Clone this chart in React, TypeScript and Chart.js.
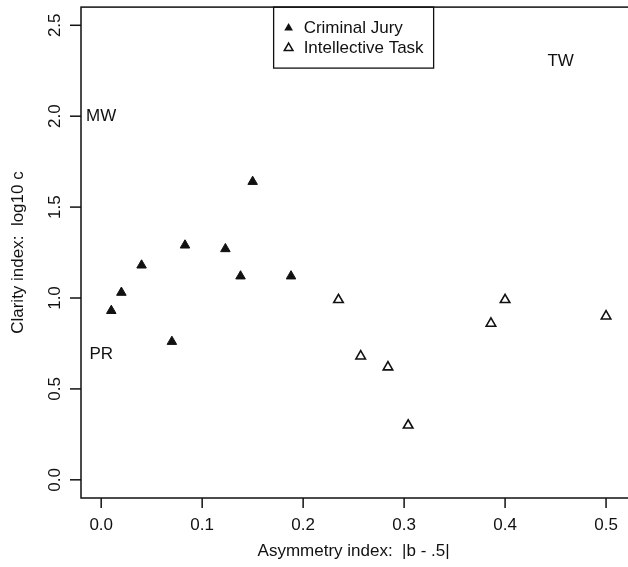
import React, { useEffect, useRef } from "react";
import { Chart, registerables } from "chart.js";

Chart.register(...registerables);

// Data
const juryX = [0.01, 0.02, 0.04, 0.07, 0.083, 0.123, 0.138, 0.15, 0.188];
const juryY = [0.93, 1.03, 1.18, 0.76, 1.29, 1.27, 1.12, 1.64, 1.12];
const taskX = [0.235, 0.257, 0.284, 0.304, 0.386, 0.4, 0.5];
const taskY = [0.99, 0.68, 0.62, 0.3, 0.86, 0.99, 0.9];

const xTicks = [0, 0.1, 0.2, 0.3, 0.4, 0.5];
const yTicks = [0, 0.5, 1.0, 1.5, 2.0, 2.5];

const noteText = ["MW", "PR", "TW"];
const noteX = [0, 0, 0.455];
const noteY = [2.0, 0.69, 2.3];

const seriesNames = ["Criminal Jury", "Intellective Task"];
const xTitle = "Asymmetry index:  |b - .5|";
const yTitle = "Clarity index:  log10 c";

const FONT = '17px "Liberation Sans", Arial, sans-serif';
const INK = "#111111";

const framePlugin = {
  id: "rframe",
  afterDraw(chart: any) {
    const { ctx, chartArea: a, scales } = chart;
    const xs = scales.x;
    const ys = scales.y;
    ctx.save();
    ctx.strokeStyle = INK;
    ctx.fillStyle = INK;
    ctx.lineWidth = 1.5;
    // frame
    ctx.strokeRect(a.left, a.top, a.right - a.left + 20, a.bottom - a.top);
    ctx.font = FONT;
    // x ticks
    ctx.textAlign = "center";
    ctx.textBaseline = "middle";
    xTicks.forEach((v) => {
      const px = xs.getPixelForValue(v);
      ctx.beginPath();
      ctx.moveTo(px, a.bottom);
      ctx.lineTo(px, a.bottom + 10);
      ctx.stroke();
      ctx.fillText(v.toFixed(1), px, a.bottom + 27);
    });
    // y ticks
    yTicks.forEach((v) => {
      const py = ys.getPixelForValue(v);
      ctx.beginPath();
      ctx.moveTo(a.left - 11, py);
      ctx.lineTo(a.left, py);
      ctx.stroke();
      ctx.save();
      ctx.translate(a.left - 26, py);
      ctx.rotate(-Math.PI / 2);
      ctx.fillText(v.toFixed(1), 0, 0);
      ctx.restore();
    });
    // axis titles
    ctx.fillText(xTitle, xs.getPixelForValue(0.25), a.bottom + 53);
    ctx.save();
    ctx.translate(18, ys.getPixelForValue(1.25));
    ctx.rotate(-Math.PI / 2);
    ctx.fillText(yTitle, 0, 0);
    ctx.restore();
    // annotations
    noteText.forEach((t, i) => {
      ctx.fillText(t, xs.getPixelForValue(noteX[i]), ys.getPixelForValue(noteY[i]));
    });
    // legend
    const cx = xs.getPixelForValue(0.25);
    const bx = cx - 80;
    const bw = 160;
    ctx.lineWidth = 1.3;
    ctx.strokeRect(bx, a.top, bw, 61);
    ctx.textAlign = "left";
    const rows = [a.top + 21, a.top + 41];
    rows.forEach((ry, i) => {
      const ds = chart.data.datasets[i];
      const r = 5;
      const sx = bx + 15;
      ctx.beginPath();
      ctx.moveTo(sx, ry - r);
      ctx.lineTo(sx + r * Math.sin((2 * Math.PI) / 3), ry - r * Math.cos((2 * Math.PI) / 3));
      ctx.lineTo(sx + r * Math.sin((4 * Math.PI) / 3), ry - r * Math.cos((4 * Math.PI) / 3));
      ctx.closePath();
      if (i === 0) {
        ctx.fillStyle = INK;
        ctx.fill();
      } else {
        ctx.fillStyle = "#ffffff";
        ctx.fill();
        ctx.lineWidth = 1.5;
        ctx.stroke();
      }
      ctx.fillStyle = INK;
      ctx.fillText(ds.label, bx + 30, ry);
    });
    ctx.restore();
  },
};

export default function App() {
  const ref = useRef<HTMLCanvasElement | null>(null);
  useEffect(() => {
    document.body.style.margin = "0";
    document.body.style.overflow = "hidden";
    const canvas = ref.current!;
    const chart = new Chart(canvas, {
      type: "scatter",
      data: {
        datasets: [
          {
            label: seriesNames[0],
            data: juryX.map((v, i) => ({ x: v, y: juryY[i] })),
            pointStyle: "triangle",
            pointRadius: 5.5,
            backgroundColor: INK,
            borderColor: INK,
            borderWidth: 1,
          },
          {
            label: seriesNames[1],
            data: taskX.map((v, i) => ({ x: v, y: taskY[i] })),
            pointStyle: "triangle",
            pointRadius: 5.5,
            backgroundColor: "#ffffff",
            borderColor: INK,
            borderWidth: 1.6,
          },
        ],
      },
      options: {
        responsive: false,
        animation: false,
        layout: { padding: { left: 81, top: 7, right: 0, bottom: 69 } },
        scales: {
          x: { type: "linear", display: false, min: -0.02, max: 0.5147 },
          y: { type: "linear", display: false, min: -0.1, max: 2.6 },
        },
        plugins: {
          legend: { display: false },
          tooltip: { enabled: false },
        },
      },
      plugins: [framePlugin],
    });
    return () => chart.destroy();
  }, []);
  return <canvas ref={ref} width={628} height={567} style={{ display: "block" }} />;
}
